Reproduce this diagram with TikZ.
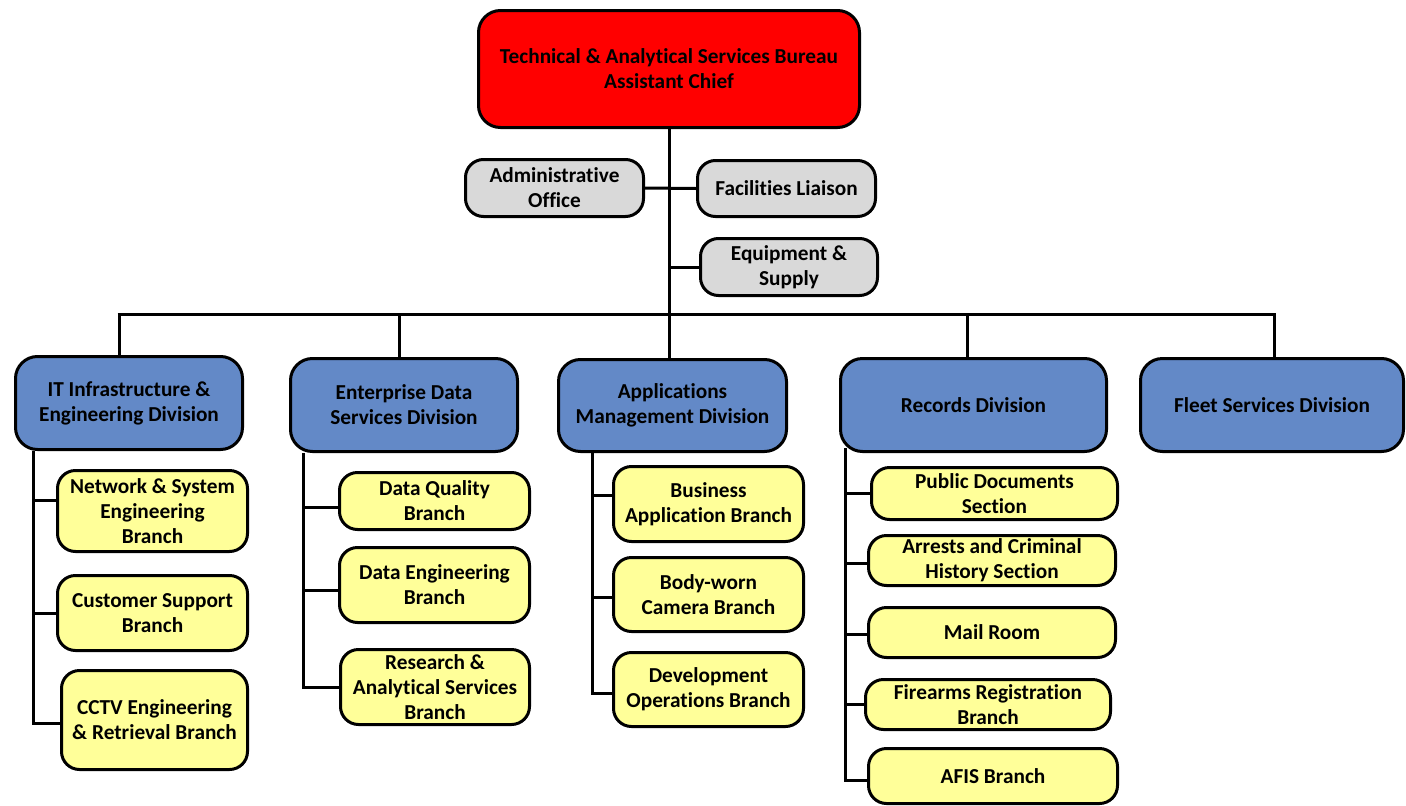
\documentclass[tikz,border=0pt]{standalone}
\usepackage{fontspec}
\setmainfont{Carlito}[Ligatures=NoCommon]
\definecolor{chiefred}{HTML}{FF0000}
\definecolor{staffgray}{HTML}{D9D9D9}
\definecolor{divblue}{HTML}{6389C7}
\definecolor{branchyellow}{HTML}{FFFF99}
\tikzset{
  box/.style={draw=black, line width=3pt, rounded corners=18pt, align=center,
    inner sep=0pt, font=\bfseries\fontsize{21.3}{25}\selectfont},
  chief/.style={box, fill=chiefred, rounded corners=22pt},
  staff/.style={box, fill=staffgray},
  division/.style={box, fill=divblue, rounded corners=22pt},
  branch/.style={box, fill=branchyellow},
  link/.style={line width=3pt}
}
\begin{document}
\begin{tikzpicture}[x=1pt,y=-1pt]
\useasboundingbox (0,0) rectangle (1406,806);

\coordinate (busL) at (119,314);
\coordinate (busR) at (1274,314);

% bureau head and staff offices
\node[chief, minimum width=381pt, minimum height=117pt] (top) at (669,69)
  {Technical \& Analytical Services Bureau\\Assistant Chief};
\node[staff, minimum width=178pt, minimum height=57pt] (admin) at (554.5,188)
  {Administrative\\Office};
\node[staff, minimum width=178pt, minimum height=56pt] (facil) at (786.5,188.5)
  {Facilities Liaison};
\node[staff, minimum width=177pt, minimum height=57pt] (equip) at (789,267)
  {Equipment \&\\Supply};

% divisions
\node[division, minimum width=227pt, minimum height=93pt] (itdiv) at (129,403)
  {IT Infrastructure \&\\Engineering Division};
\node[division, minimum width=227pt, minimum height=93pt] (eddiv) at (404,405)
  {Enterprise Data\\Services Division};
\node[division, minimum width=228pt, minimum height=92pt] (amdiv) at (672.5,405.5)
  {Applications\\Management Division};
\node[division, minimum width=266pt, minimum height=93pt] (rddiv) at (973.5,405)
  {Records Division};
\node[division, minimum width=263pt, minimum height=93pt] (fsdiv) at (1272,405)
  {Fleet Services Division};

% branches and sections
\node[branch, minimum width=190pt, minimum height=81pt] (net) at (152.5,511)
  {Network \& System\\Engineering\\Branch};
\node[branch, minimum width=190pt, minimum height=75pt] (cust) at (152.5,613)
  {Customer Support\\Branch};
\node[branch, minimum width=186pt, minimum height=99pt] (cctv) at (154.5,720)
  {CCTV Engineering\\\& Retrieval Branch};

\node[branch, minimum width=190pt, minimum height=57pt] (dq) at (434.5,501)
  {Data Quality\\Branch};
\node[branch, minimum width=190pt, minimum height=75pt] (de) at (434.5,585)
  {Data Engineering\\Branch};
\node[branch, minimum width=189pt, minimum height=75pt] (rs) at (435,687)
  {Research \&\\Analytical Services\\Branch};

\node[branch, minimum width=190pt, minimum height=75pt] (ba) at (708.5,504)
  {Business\\Application Branch};
\node[branch, minimum width=190pt, minimum height=74pt] (bw) at (708.5,594.5)
  {Body-worn\\Camera Branch};
\node[branch, minimum width=190pt, minimum height=74pt] (dv) at (708.5,689.5)
  {Development\\Operations Branch};

\node[branch, minimum width=246pt, minimum height=52pt] (pd) at (994.5,493.5)
  {Public Documents\\Section};
\node[branch, minimum width=247pt, minimum height=50pt] (ar) at (992,560.5)
  {Arrests and Criminal\\History Section};
\node[branch, minimum width=247pt, minimum height=50pt] (mr) at (992,632.5)
  {Mail Room};
\node[branch, minimum width=245pt, minimum height=50pt] (fr) at (988,704.5)
  {Firearms Registration\\Branch};
\node[branch, minimum width=249pt, minimum height=55pt] (af) at (993,776)
  {AFIS Branch};

% bureau trunk, staff links and division bus
\draw[link] (top.south) -- (top.south |- busL);
\draw[link] (admin.east) -- (facil.west);
\draw[link] (equip.west) -- (equip.west -| top.south);
\draw[link] ([xshift=-1.5pt]busL) -- ([xshift=1.5pt]busR);
\draw[link] (itdiv.north -| busL) -- (busL);
\draw[link] ([xshift=-5pt]eddiv.north) -- ([xshift=-5pt]eddiv.north |- busL);
\draw[link] ([xshift=-3.5pt]amdiv.north) -- ([xshift=-3.5pt]amdiv.north |- busL);
\draw[link] ([xshift=-6.5pt]rddiv.north) -- ([xshift=-6.5pt]rddiv.north |- busL);
\draw[link] (fsdiv.north -| busR) -- (busR);

% IT Infrastructure & Engineering spine
\coordinate (itsp) at ([xshift=19pt]itdiv.south west);
\draw[link] (itsp) |- ([yshift=-3pt]cctv.west);
\draw[link] ([yshift=11pt]net.west) -- ([yshift=11pt]net.west -| itsp);
\draw[link] (cust.west) -- (cust.west -| itsp);

% Enterprise Data Services spine
\coordinate (edsp) at ([xshift=14pt]eddiv.south west);
\draw[link] (edsp) |- (rs.west);
\draw[link] ([yshift=-6pt]dq.west) -- ([yshift=-6pt]dq.west -| edsp);
\draw[link] ([yshift=-5pt]de.west) -- ([yshift=-5pt]de.west -| edsp);

% Applications Management spine
\coordinate (amsp) at ([xshift=35pt]amdiv.south west);
\draw[link] (amsp) |- ([yshift=-3.5pt]dv.west);
\draw[link] ([yshift=9pt]ba.west) -- ([yshift=9pt]ba.west -| amsp);
\draw[link] ([yshift=-2.5pt]bw.west) -- ([yshift=-2.5pt]bw.west -| amsp);

% Records spine
\coordinate (rdsp) at ([xshift=6pt,yshift=5pt]rddiv.south west);
\draw[link] (rdsp) |- ([yshift=-4pt]af.west);
\draw[link] (pd.west) -- (pd.west -| rdsp);
\draw[link] ([yshift=-2.5pt]ar.west) -- ([yshift=-2.5pt]ar.west -| rdsp);
\draw[link] ([yshift=-1.5pt]mr.west) -- ([yshift=-1.5pt]mr.west -| rdsp);
\draw[link] (fr.west) -- (fr.west -| rdsp);
\end{tikzpicture}
\end{document}
